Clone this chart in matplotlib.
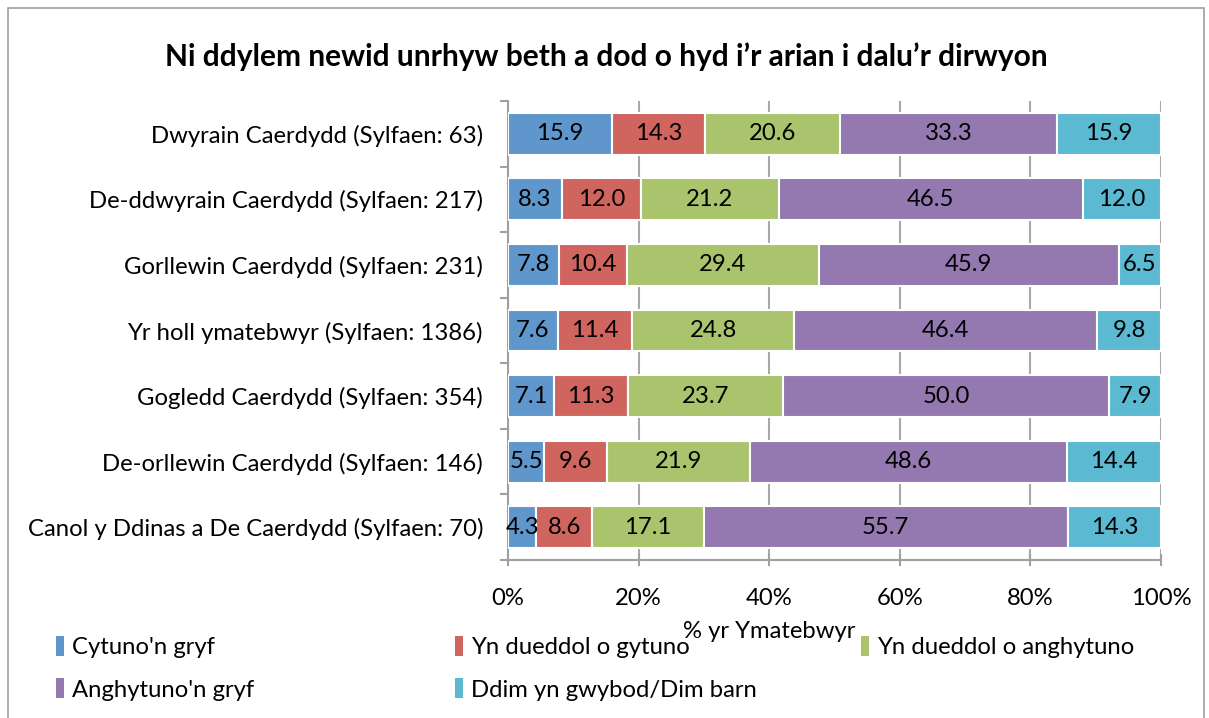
import matplotlib
matplotlib.use("Agg")
import matplotlib.pyplot as plt
import numpy as np
from matplotlib.patches import Patch, Rectangle

plt.rcParams['font.family'] = ['Lato', 'DejaVu Sans']

categories = [
    "Dwyrain Caerdydd (Sylfaen: 63)",
    "De-ddwyrain Caerdydd (Sylfaen: 217)",
    "Gorllewin Caerdydd (Sylfaen: 231)",
    "Yr holl ymatebwyr (Sylfaen: 1386)",
    "Gogledd Caerdydd (Sylfaen: 354)",
    "De-orllewin Caerdydd (Sylfaen: 146)",
    "Canol y Ddinas a De Caerdydd (Sylfaen: 70)",
]
series_names = ["Cytuno'n gryf", "Yn dueddol o gytuno", "Yn dueddol o anghytuno",
                "Anghytuno'n gryf", "Ddim yn gwybod/Dim barn"]
cytuno = [15.9, 8.3, 7.8, 7.6, 7.1, 5.5, 4.3]
gytuno = [14.3, 12.0, 10.4, 11.4, 11.3, 9.6, 8.6]
anghytuno = [20.6, 21.2, 29.4, 24.8, 23.7, 21.9, 17.1]
anghytuno_gryf = [33.3, 46.5, 45.9, 46.4, 50.0, 48.6, 55.7]
ddim = [15.9, 12.0, 6.5, 9.8, 7.9, 14.4, 14.3]
series = [cytuno, gytuno, anghytuno, anghytuno_gryf, ddim]
colors = ["#5F96CB", "#D0655F", "#A9C46C", "#9479B0", "#5BB9D1"]
xticks = [0, 20, 40, 60, 80, 100]
xticklabels = ["0%", "20%", "40%", "60%", "80%", "100%"]

FS = 17.2

fig = plt.figure(figsize=(12.09, 7.18), dpi=100)
ax = fig.add_axes([508/1209, 1-560/718, (1161-508)/1209, (560-101)/718])

n = len(categories)
y = np.arange(n)[::-1]
left = np.zeros(n)
for vals, col in zip(series, colors):
    vals = np.array(vals)
    ax.barh(y, vals, left=left, height=0.64, color=col, edgecolor='white',
            linewidth=1.5, zorder=3)
    for yi, l, v in zip(y, left, vals):
        ax.text(l + v/2, yi, f"{v:.1f}", ha='center', va='center', fontsize=FS,
                color='black', zorder=4)
    left = left + vals

ax.set_xlim(0, 100)
ax.set_ylim(-0.5, n - 0.5)
ax.set_xticks(xticks)
ax.set_xticklabels(xticklabels, fontsize=FS)
ax.set_yticks(y)
ax.set_yticklabels(categories, fontsize=FS)
ax.set_yticks(np.arange(-0.5, n, 1), minor=True)
ax.tick_params(axis='y', which='major', length=0, pad=18)
ax.tick_params(axis='y', which='minor', length=6, color='#A0A0A0', width=1.5)
ax.tick_params(axis='x', which='major', length=8, color='#A0A0A0', width=1.5,
               direction='inout', pad=16)
ax.grid(axis='x', color='#A8A8A8', linewidth=1.5, zorder=0)
for s in ['top', 'right']:
    ax.spines[s].set_visible(False)
for s in ['left', 'bottom']:
    ax.spines[s].set_color('#A0A0A0')
    ax.spines[s].set_linewidth(1.5)
ax.set_xlabel("% yr Ymatebwyr", fontsize=FS, va='center')
ax.xaxis.set_label_coords((769 - 508) / 653, (560 - 632) / 459)

fig.text(0.5 + 2/1209, 1 - 57/718, "Ni ddylem newid unrhyw beth a dod o hyd i\u2019r arian i dalu\u2019r dirwyon",
         ha='center', va='center', fontsize=21.5, fontweight='bold')

# legend in three columns
cols = [[0, 3], [1, 4], [2]]
xpos = [56, 455, 861]
for c, xp in zip(cols, xpos):
    handles = [Patch(facecolor=colors[i], edgecolor='none') for i in c]
    labels = [series_names[i] for i in c]
    fig.legend(handles, labels, loc='upper left',
               bbox_to_anchor=(xp/1209, 1 - 636/718), frameon=False,
               fontsize=FS, handlelength=0.35, handleheight=0.9, handletextpad=0.3,
               labelspacing=0.85, borderaxespad=0, borderpad=0)

fig.patches.append(Rectangle((8/1209, -0.01), 1196/1209, 1 - 8/718 + 0.01,
                             transform=fig.transFigure, fill=False,
                             edgecolor='#A0A0A0', linewidth=1.2))

fig.savefig("out.png", dpi=100)
